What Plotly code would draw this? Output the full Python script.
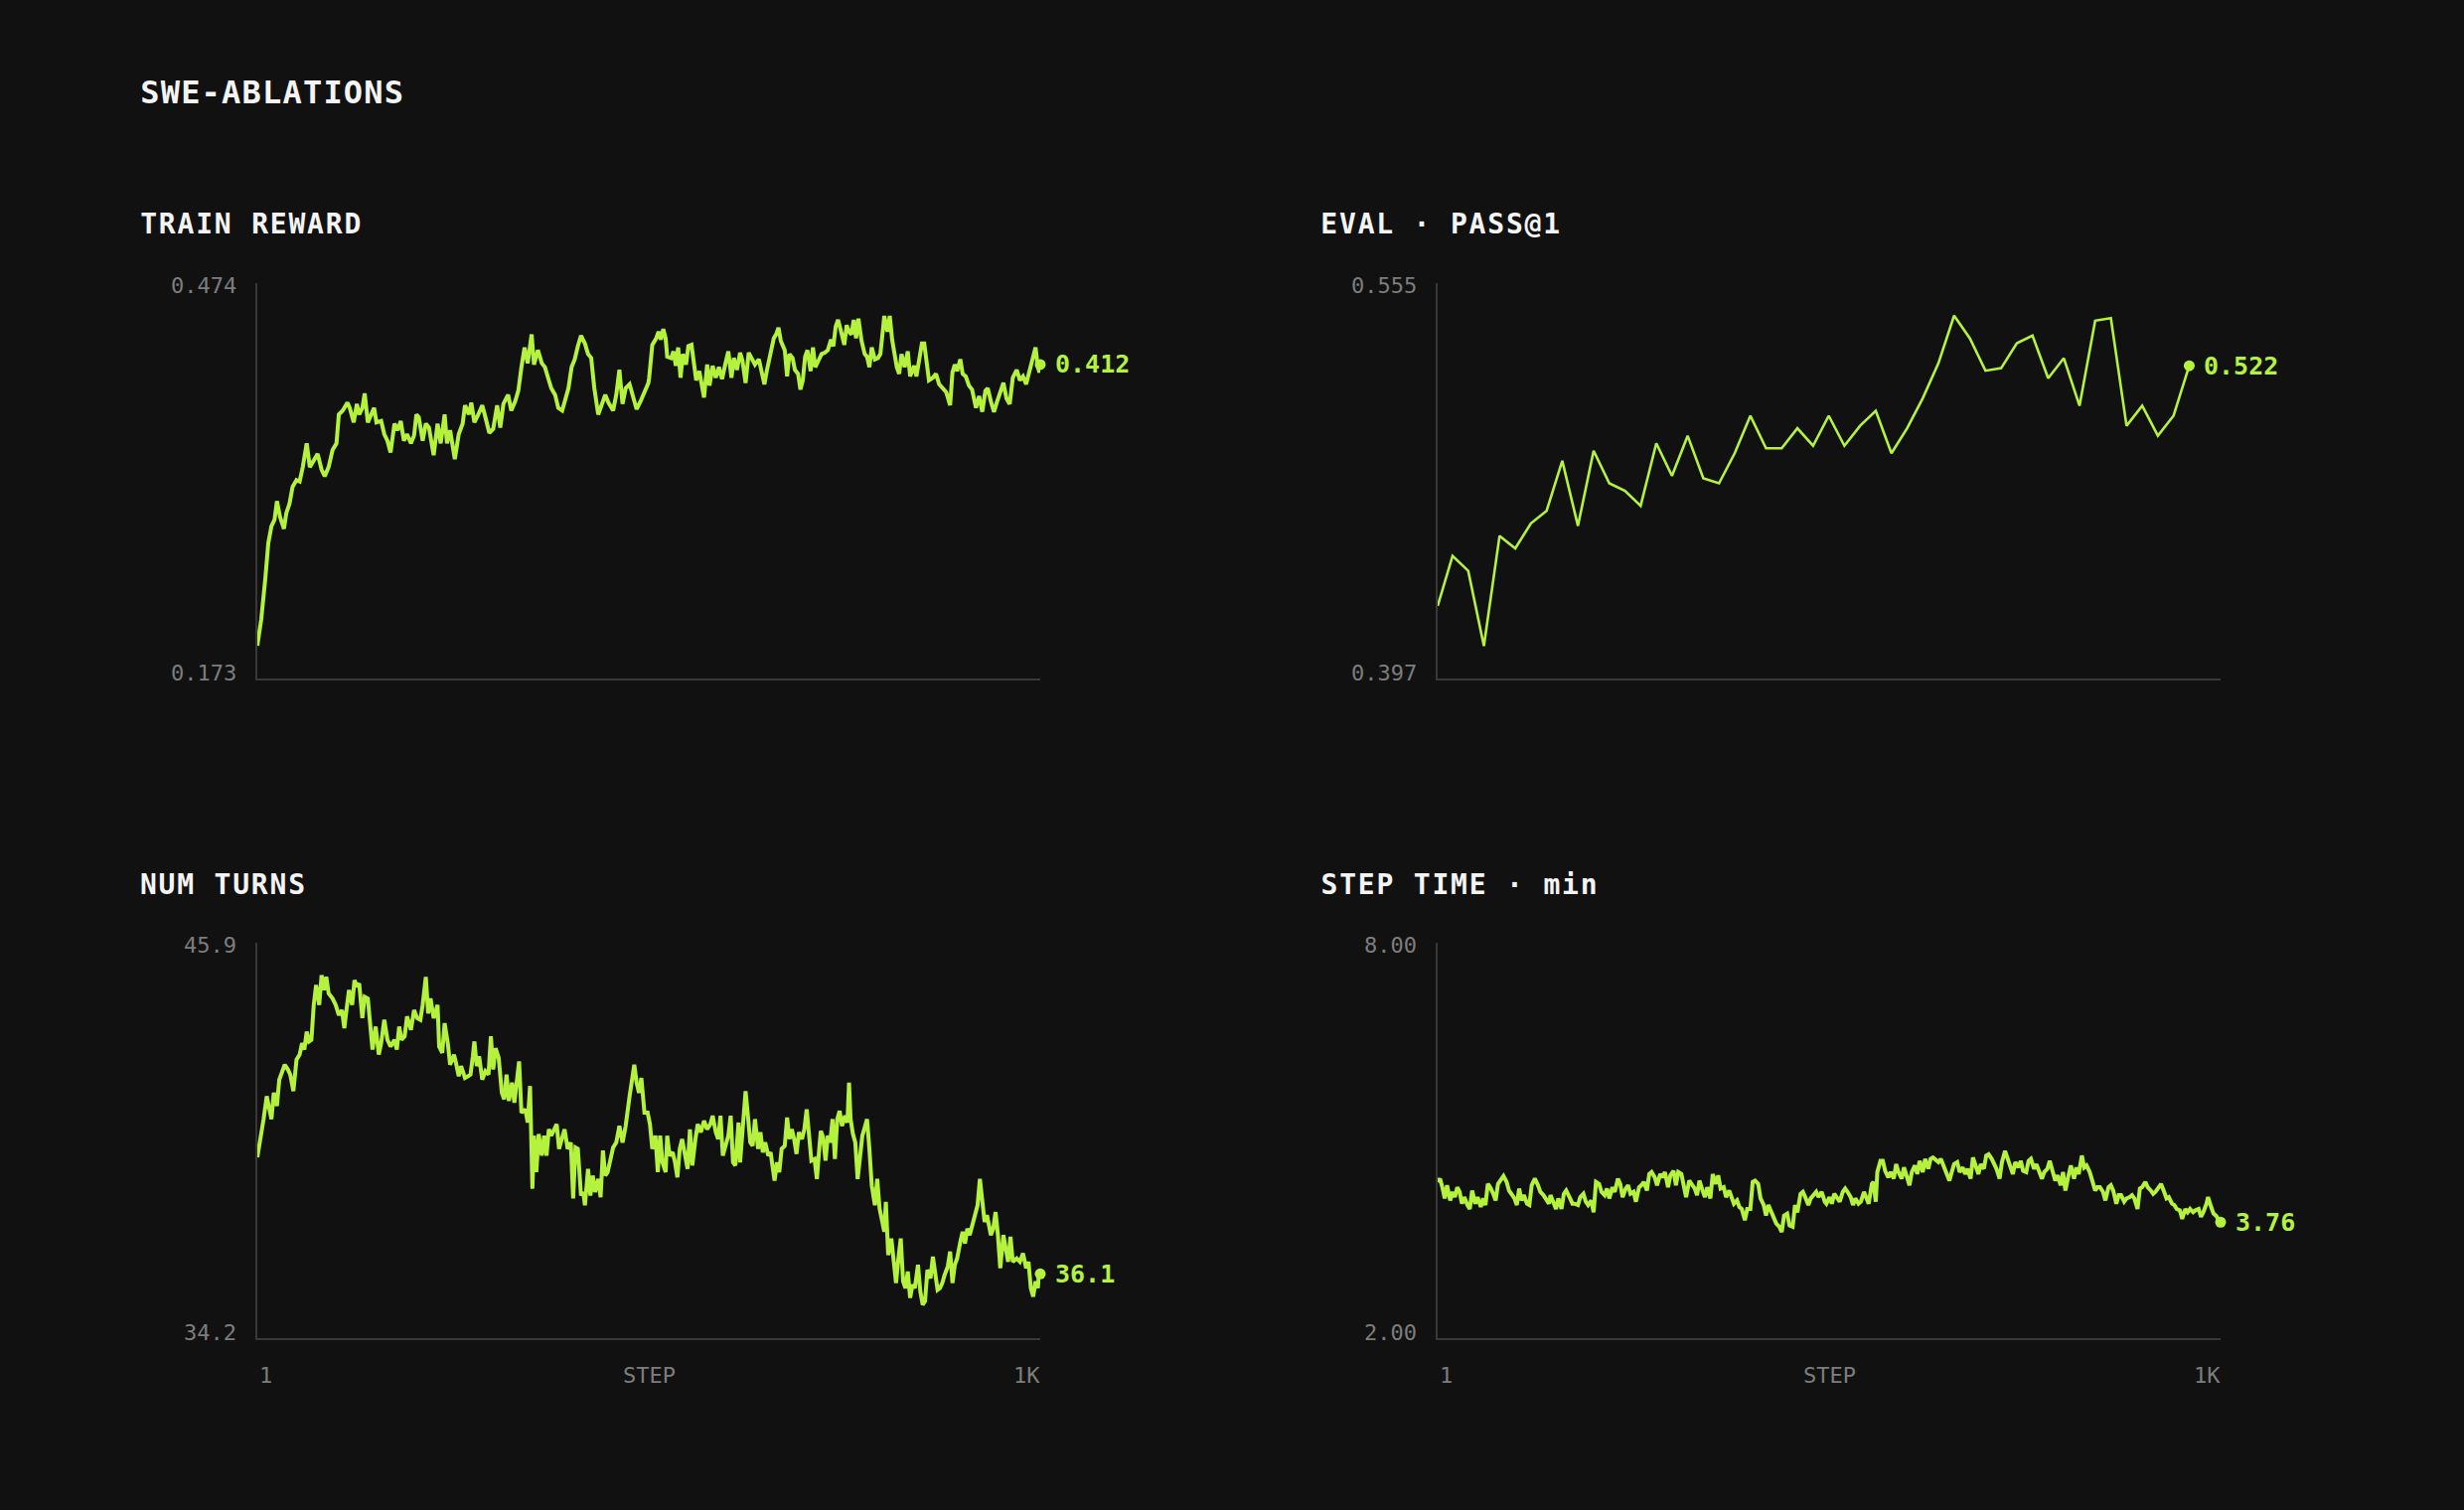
import json
import plotly.graph_objects as go

# ---------------- DATA ----------------
train_steps = [1, 6, 11, 15, 19, 23, 26, 30, 35, 38, 42, 46, 51, 55, 59, 64, 68, 73, 78, 83,
               87, 92, 97, 102, 105, 110, 116, 119, 124, 128, 131, 135, 138, 142, 146, 150, 153, 159, 163, 167,
               171, 176, 180, 184, 188, 192, 197, 201, 204, 207, 212, 216, 220, 226, 231, 235, 240, 243, 247, 253,
               258, 263, 266, 271, 274, 278, 283, 288, 292, 297, 302, 307, 311, 315, 321, 325, 330, 334, 338, 342,
               346, 351, 354, 359, 364, 368, 372, 376, 381, 385, 390, 394, 398, 402, 406, 410, 414, 419, 423, 427,
               431, 436, 441, 445, 449, 455, 459, 463, 467, 471, 476, 480, 485, 490, 495, 500,
               501, 505, 510, 513, 516, 519, 522, 524, 529, 532, 535, 538, 541, 544, 548, 551, 555, 558, 561, 565,
               568, 571, 575, 578, 582, 586, 590, 594, 598, 602, 606, 609, 613, 617, 620, 624, 628, 632, 636, 641,
               645, 648, 651, 656, 660, 663, 666, 669, 674, 677, 680, 684, 687, 691, 694, 697, 700, 703, 707, 710,
               713, 717, 721, 725, 729, 733, 736, 739, 742, 746, 750, 753, 756, 759, 762, 765, 768, 772, 776, 779,
               782, 785, 789, 793, 796, 799, 801, 805, 808, 811, 814, 817, 820, 823, 827, 831, 834, 839, 842, 846,
               849, 852, 855, 858, 863, 867, 871, 875, 880, 885, 888, 891, 894, 898, 901, 905, 909, 913, 918, 922,
               926, 930, 933, 937, 941, 945, 949, 953, 957, 961, 965, 970, 974, 978, 982, 986, 991, 994, 997, 999, 1000]
train_reward = [0.198, 0.218, 0.248, 0.276, 0.289, 0.294, 0.308, 0.296, 0.287, 0.299,
                0.306, 0.319, 0.324, 0.323, 0.334, 0.352, 0.334, 0.339, 0.344, 0.332,
                0.327, 0.334, 0.347, 0.352, 0.374, 0.377, 0.383, 0.379, 0.368, 0.382,
                0.374, 0.379, 0.390, 0.368, 0.373, 0.379, 0.368, 0.369, 0.359, 0.354,
                0.345, 0.367, 0.362, 0.369, 0.354, 0.359, 0.352, 0.358, 0.374, 0.372,
                0.354, 0.367, 0.364, 0.343, 0.367, 0.352, 0.374, 0.352, 0.362, 0.340,
                0.359, 0.367, 0.381, 0.374, 0.383, 0.368, 0.374, 0.381, 0.372, 0.360,
                0.363, 0.381, 0.364, 0.382, 0.389, 0.377, 0.384, 0.392, 0.410, 0.425,
                0.413, 0.435, 0.412, 0.423, 0.413, 0.410, 0.402, 0.394, 0.389, 0.379,
                0.377, 0.387, 0.394, 0.410, 0.416, 0.426, 0.434, 0.428, 0.420, 0.417,
                0.394, 0.374, 0.382, 0.389, 0.383, 0.377, 0.389, 0.408, 0.382, 0.394,
                0.397, 0.389, 0.378, 0.384, 0.392, 0.398,
                0.402, 0.427, 0.432, 0.437, 0.431, 0.439, 0.432, 0.418, 0.417, 0.422,
                0.411, 0.425, 0.402, 0.420, 0.412, 0.426, 0.427, 0.412, 0.400, 0.407,
                0.397, 0.387, 0.412, 0.396, 0.411, 0.402, 0.410, 0.401, 0.412, 0.422,
                0.402, 0.417, 0.408, 0.421, 0.415, 0.398, 0.421, 0.417, 0.412, 0.416,
                0.403, 0.397, 0.407, 0.422, 0.432, 0.435, 0.440, 0.430, 0.423, 0.403,
                0.420, 0.417, 0.408, 0.405, 0.393, 0.400, 0.418, 0.423, 0.407, 0.425,
                0.410, 0.415, 0.420, 0.421, 0.423, 0.431, 0.426, 0.441, 0.446, 0.437,
                0.427, 0.442, 0.437, 0.435, 0.446, 0.432, 0.447, 0.430, 0.420, 0.418,
                0.410, 0.425, 0.416, 0.417, 0.420, 0.437, 0.449, 0.437, 0.449, 0.431,
                0.418, 0.410, 0.405, 0.420, 0.410, 0.422, 0.403, 0.411, 0.403, 0.417,
                0.428, 0.428, 0.416, 0.400, 0.402, 0.405, 0.397, 0.394, 0.391, 0.381,
                0.406, 0.412, 0.407, 0.416, 0.405, 0.403, 0.396, 0.393, 0.379, 0.388,
                0.376, 0.392, 0.394, 0.384, 0.376, 0.384, 0.392, 0.398, 0.386, 0.382,
                0.402, 0.408, 0.400, 0.403, 0.397, 0.406, 0.418, 0.425, 0.410, 0.406, 0.412]

eval_steps = [1] + list(range(20, 961, 20))
eval_pass1 = [0.426, 0.446, 0.440, 0.410, 0.454, 0.449, 0.459, 0.464, 0.484, 0.458,
              0.488, 0.475, 0.472, 0.466, 0.491, 0.478, 0.494, 0.477, 0.475, 0.487,
              0.502, 0.489, 0.489, 0.497, 0.490, 0.502, 0.490, 0.498, 0.504, 0.487,
              0.497, 0.509, 0.523, 0.542, 0.533, 0.520, 0.521, 0.531, 0.534, 0.517,
              0.525, 0.506, 0.540, 0.541, 0.498, 0.506, 0.494, 0.502, 0.522]

turns_steps = [1, 5, 9, 13, 16, 19, 22, 26, 29, 33, 36, 40, 43, 47, 51, 55, 58, 61, 64, 67,
               70, 73, 76, 80, 83, 86, 89, 92, 97, 101, 105, 109, 112, 115, 118, 122, 125, 128, 131, 135,
               138, 142, 145, 148, 152, 156, 159, 163, 167, 171, 176, 179, 182, 185, 189, 192, 197, 201, 205, 209,
               212, 216, 219, 222, 226, 231, 233, 237, 240, 244, 247, 252, 255, 258, 261, 266, 270, 273, 276, 278,
               281, 284, 288, 292, 296, 299, 302, 305, 309, 313, 316, 319, 322, 326, 329, 332, 335, 338, 343, 346,
               349, 352, 354, 357, 360, 364, 367, 370, 373, 376, 380, 383, 386, 389, 393, 397, 401, 404, 407, 410,
               414, 417, 419, 423, 426, 429, 432, 436, 439, 442, 445, 448, 452, 455, 459, 463, 467, 471, 476, 479,
               482, 485, 488, 491, 495,
               499, 502, 505, 509, 512, 515, 518, 522, 524, 527, 531, 534, 537, 540, 543, 547, 550, 553, 556, 560,
               563, 567, 571, 575, 579, 582, 586, 589, 592, 595, 598, 602, 605, 608, 611, 615, 617, 620, 624, 627,
               630, 633, 636, 640, 643, 646, 649, 653, 656, 658, 661, 664, 667, 670, 674, 677, 680, 683, 686, 689,
               692, 696, 699, 702, 705, 708, 712, 715, 718, 720, 723, 726, 729, 732, 735, 738, 741, 744, 747, 751,
               754, 756, 758, 761, 764, 767, 770, 773, 776, 779, 782, 785, 789, 792, 795, 798, 801, 803, 806, 810,
               813, 816, 819, 822, 825, 828, 831, 834, 837, 840, 844, 847, 850, 853, 856, 860, 863, 866, 869, 872,
               875, 878, 882, 885, 888, 891, 894, 898, 901, 904, 907, 910, 913, 916, 920, 923, 926, 929, 932, 937,
               940, 943, 946, 949, 953, 956, 959, 962, 965, 970, 974, 978, 982, 985, 988, 991, 994, 997, 998, 1000]
num_turns = [39.55, 40.09, 40.68, 41.36, 40.97, 40.68, 41.46, 41.07, 41.85, 42.15,
             42.29, 42.15, 42.00, 41.51, 42.44, 42.59, 42.93, 42.74, 43.27, 42.98,
             43.03, 44.06, 44.65, 44.06, 44.94, 44.50, 44.89, 44.40, 44.25, 44.06,
             43.76, 43.91, 43.37, 43.96, 44.50, 44.06, 44.79, 44.60, 44.70, 43.67,
             44.30, 44.25, 43.47, 42.74, 43.42, 42.59, 42.93, 43.62, 43.03, 42.83,
             43.03, 42.74, 43.42, 43.03, 43.13, 43.72, 43.32, 43.91, 43.67, 43.62,
             44.06, 44.89, 43.81, 44.25, 43.67, 44.06, 42.83, 42.64, 43.52, 42.93,
             42.29, 42.59, 42.29, 41.95, 42.25, 41.90, 41.95, 42.00, 42.54, 42.98,
             42.25, 42.54, 41.85, 42.10, 42.00, 43.13, 42.15, 42.78, 42.49, 41.46,
             41.27, 42.00, 41.22, 41.76, 41.17, 41.76, 42.39, 40.87, 40.97, 40.58,
             41.66, 38.62, 40.19, 39.11, 40.24, 39.60, 40.19, 39.60, 40.38, 40.19,
             40.38, 40.53, 39.80, 40.09, 40.38, 39.80, 39.99, 38.33, 39.84, 39.80,
             38.42, 38.52, 38.13, 39.21, 38.42, 39.01, 38.52, 38.91, 38.37, 39.75,
             39.01, 39.11, 39.60, 39.84, 39.99, 40.48, 39.99, 40.48, 41.36, 41.76,
             42.29, 41.76, 41.46, 41.90, 40.87,
             40.87, 40.53, 39.80, 40.19, 39.11, 40.19, 39.40, 39.11, 40.19, 39.60,
             39.70, 39.40, 38.96, 39.80, 40.09, 39.50, 39.21, 40.38, 39.31, 40.09,
             40.53, 40.29, 40.63, 40.38, 40.53, 40.78, 40.29, 40.09, 40.78, 39.60,
             39.89, 40.19, 40.78, 39.40, 39.31, 40.58, 39.40, 40.38, 41.51, 40.78,
             39.99, 39.89, 40.68, 39.80, 40.29, 39.70, 39.99, 39.60, 39.70, 39.35,
             38.86, 39.40, 39.11, 39.80, 39.89, 40.73, 40.09, 40.38, 40.09, 39.65,
             40.29, 40.09, 40.38, 40.97, 40.19, 39.45, 39.50, 38.91, 39.80, 40.33,
             40.14, 39.45, 40.19, 39.99, 40.68, 39.50, 40.68, 40.92, 40.48, 40.78,
             40.58, 41.76, 40.68, 40.24, 39.99, 38.91, 39.55, 40.19, 40.43, 40.68,
             39.80, 38.72, 38.13, 38.91, 38.03, 37.64, 37.35, 38.23, 36.66, 37.15,
             36.46, 35.83, 36.56, 37.15, 35.88, 35.68, 36.17, 35.39, 35.78, 35.68,
             36.37, 35.58, 35.19, 35.29, 36.22, 35.97, 36.61, 36.07, 35.63, 35.68,
             35.83, 36.07, 36.32, 36.76, 35.83, 36.37, 36.56, 37.05, 37.35, 37.00,
             37.44, 37.25, 37.49, 37.74, 38.13, 38.91, 38.23, 37.64, 37.84, 37.25,
             37.44, 37.93, 37.25, 36.27, 37.25, 36.76, 36.46, 37.20, 36.46, 36.56,
             36.46, 36.71, 36.27, 36.46, 35.68, 35.43, 35.88, 35.68, 36.02, 36.10]

time_steps = [1, 4, 7, 10, 13, 17, 20, 23, 26, 29, 32, 35, 39, 42, 45, 49, 52, 56, 59, 62,
              65, 68, 72, 75, 78, 81, 85, 89, 92, 95, 99, 102, 105, 108, 111, 115, 118, 121, 125, 129,
              132, 136, 139, 143, 145, 149, 152, 155, 159, 162, 165, 170, 173, 176, 180, 183, 187, 190, 193, 197,
              200, 203, 207, 210, 214, 217, 220, 224, 227, 231, 234, 237, 241, 244, 247, 251, 254, 258, 261, 264,
              268, 271, 274, 278, 281, 285, 288, 291, 295, 298, 302, 305, 308, 312, 315, 318, 322, 325, 329, 332,
              335, 339, 342, 345, 349, 352, 356, 359, 362, 366, 369, 373, 376, 379, 383, 386, 389, 393, 396, 400,
              403, 406, 410, 413, 417, 420, 423, 427, 430, 433, 437, 440, 443, 447, 450, 454, 457, 460, 464, 467,
              470, 474, 477, 481, 484, 487, 491, 495,
              497, 501, 504, 507, 511, 514, 518, 521, 524, 528, 531, 534, 538, 541, 545, 548, 551, 555, 557, 560,
              562, 566, 569, 572, 576, 579, 583, 586, 589, 593, 596, 600, 603, 606, 610, 613, 616, 620, 623, 627,
              630, 633, 637, 640, 643, 647, 650, 654, 657, 660, 664, 667, 671, 674, 677, 681, 684, 687, 691, 694,
              698, 701, 704, 708, 711, 714, 718, 721, 725, 728, 731, 735, 738, 742, 745, 748, 752, 755, 758, 762,
              765, 769, 772, 775, 779, 782, 786, 789, 792, 796, 799, 802, 806, 809, 813, 816, 819, 823, 826, 829,
              833, 836, 840, 843, 846, 850, 853, 857, 860, 863, 867, 870, 873, 877, 880, 884, 887, 890, 894, 897,
              900, 904, 907, 911, 914, 917, 921, 924, 928, 931, 934, 938, 941, 944, 948, 951, 955, 958, 961, 965,
              968, 972, 975, 978, 982, 984, 988, 991, 994, 998, 1000]
step_time_min = [4.37, 4.42, 4.29, 4.12, 4.32, 4.09, 4.22, 4.14, 4.29, 4.22,
                 4.04, 4.14, 4.02, 3.96, 4.24, 4.04, 4.14, 3.99, 4.12, 4.02,
                 4.34, 4.29, 4.19, 4.09, 4.34, 4.39, 4.46, 4.37, 4.24, 4.19,
                 4.12, 4.02, 4.27, 4.09, 4.17, 4.04, 4.02, 4.32, 4.42, 4.32,
                 4.22, 4.17, 4.12, 4.04, 4.17, 4.04, 3.96, 4.12, 3.96, 4.19,
                 4.24, 4.12, 4.04, 4.04, 4.02, 4.14, 4.19, 4.07, 4.02, 4.09,
                 3.91, 4.37, 4.34, 4.22, 4.17, 4.27, 4.12, 4.29, 4.22, 4.42,
                 4.34, 4.14, 4.27, 4.32, 4.19, 4.22, 4.07, 4.29, 4.32, 4.37,
                 4.24, 4.49, 4.52, 4.44, 4.32, 4.49, 4.44, 4.52, 4.29, 4.47,
                 4.54, 4.32, 4.52, 4.49, 4.34, 4.14, 4.39, 4.34, 4.27, 4.17,
                 4.39, 4.24, 4.14, 4.29, 4.12, 4.49, 4.34, 4.47, 4.27, 4.29,
                 4.14, 4.24, 4.12, 4.04, 4.09, 3.99, 3.96, 3.79, 3.96, 3.96,
                 4.37, 4.39, 4.34, 4.12, 4.02, 3.86, 4.02, 3.91, 3.81, 3.74,
                 3.69, 3.61, 3.86, 3.89, 3.71, 3.69, 4.02, 3.91, 4.19, 4.22,
                 4.14, 4.02, 4.12, 4.17, 4.22, 4.14, 4.22, 4.07,
                 4.04, 4.14, 4.04, 4.19, 4.12, 4.07, 4.22, 4.27, 4.22, 4.14,
                 4.02, 4.12, 4.04, 4.07, 4.22, 4.12, 4.04, 4.34, 4.37, 4.07,
                 4.52, 4.69, 4.69, 4.54, 4.44, 4.52, 4.42, 4.64, 4.52, 4.42,
                 4.59, 4.44, 4.32, 4.52, 4.62, 4.49, 4.69, 4.52, 4.72, 4.57,
                 4.72, 4.74, 4.69, 4.67, 4.72, 4.59, 4.49, 4.39, 4.52, 4.64,
                 4.67, 4.52, 4.59, 4.49, 4.57, 4.42, 4.74, 4.62, 4.49, 4.64,
                 4.57, 4.77, 4.79, 4.72, 4.64, 4.57, 4.42, 4.67, 4.84, 4.74,
                 4.62, 4.49, 4.67, 4.59, 4.69, 4.54, 4.52, 4.69, 4.72, 4.57,
                 4.64, 4.52, 4.42, 4.52, 4.57, 4.69, 4.52, 4.39, 4.47, 4.32,
                 4.52, 4.24, 4.47, 4.62, 4.42, 4.59, 4.49, 4.77, 4.59, 4.62,
                 4.52, 4.39, 4.24, 4.29, 4.29, 4.22, 4.09, 4.29, 4.32, 4.24,
                 4.04, 4.17, 4.17, 4.07, 4.12, 4.14, 4.17, 4.12, 3.96, 4.27,
                 4.29, 4.37, 4.29, 4.24, 4.19, 4.22, 4.29, 4.34, 4.22, 4.12,
                 4.14, 4.04, 4.02, 3.96, 3.94, 3.81, 3.96, 3.91, 3.96, 3.91,
                 3.94, 3.96, 3.84, 3.91, 4.04, 4.14, 3.99, 3.89, 3.86, 3.79, 3.76]

chart_title = "SWE-ABLATIONS"
panel_titles = ["TRAIN REWARD", "EVAL · PASS@1", "NUM TURNS", "STEP TIME · min"]
panel_ranges = [(0.173, 0.474), (0.397, 0.555), (34.2, 45.9), (2.00, 8.00)]
panel_formats = [".3f", ".3f", ".1f", ".2f"]
x_tick_labels = ["1", "STEP", "1K"]
step_range = (1, 1000)

# ---------------- STYLE ----------------
W, H = 2480, 1520
BG = "#111111"
LIME = "#b5f23d"
AXIS = "#383838"
TICK = "#7d7d7d"
WHITE = "#f4f4f4"
MONO = "DejaVu Sans Mono"
SUB_SPACING = 1.8
TITLE_SPACING = 1.2

def px_x(p):
    return p / W

def px_y(p):
    return 1 - p / H

col_x = [(259, 1047), (1447, 2235)]
row_y = [(285, 683), (949, 1347)]
title_x = [139, 1327]
title_y = [226, 890]

series = [
    (train_steps, train_reward, 4.0),
    (eval_steps, eval_pass1, 2.6),
    (turns_steps, num_turns, 4.0),
    (time_steps, step_time_min, 4.0),
]

fig = go.Figure()
annotations = []
layout_axes = {}
letter_spacing = {}

for i, (xs, ys, lw) in enumerate(series):
    r, c = divmod(i, 2)
    n = i + 1
    xa = "x" if n == 1 else f"x{n}"
    ya = "y" if n == 1 else f"y{n}"
    fig.add_trace(go.Scatter(x=xs, y=ys, mode="lines", xaxis=xa, yaxis=ya,
                             line=dict(color=LIME, width=lw), hoverinfo="skip",
                             showlegend=False))
    fig.add_trace(go.Scatter(x=[xs[-1]], y=[ys[-1]], mode="markers", xaxis=xa, yaxis=ya,
                             marker=dict(color=LIME, size=11), hoverinfo="skip",
                             showlegend=False, cliponaxis=False))
    x0, x1 = col_x[c]
    y0, y1 = row_y[r]
    lo, hi = panel_ranges[i]
    layout_axes["xaxis" if n == 1 else f"xaxis{n}"] = dict(
        domain=[px_x(x0), px_x(x1)], range=list(step_range), anchor=ya,
        showline=True, linecolor=AXIS, linewidth=2, showgrid=False, zeroline=False,
        showticklabels=False, ticks="", fixedrange=True)
    layout_axes["yaxis" if n == 1 else f"yaxis{n}"] = dict(
        domain=[px_y(y1), px_y(y0)], range=[lo, hi], anchor=xa,
        showline=True, linecolor=AXIS, linewidth=2, showgrid=False, zeroline=False,
        showticklabels=False, ticks="", fixedrange=True)

    fmt = panel_formats[i]
    # panel title (letter-spaced text grows symmetrically, so shift by half the growth)
    letter_spacing[str(len(annotations))] = SUB_SPACING
    annotations.append(dict(text=panel_titles[i], xref="paper", yref="paper",
                            x=px_x(title_x[c]), y=px_y(title_y[r]), xanchor="left", yanchor="middle",
                            xshift=SUB_SPACING * len(panel_titles[i]) / 2,
                            showarrow=False, font=dict(family=MONO, size=28, color=WHITE, weight="bold")))
    # y tick labels (range ends)
    annotations.append(dict(text=format(hi, fmt), xref="paper", yref=ya, x=px_x(x0 - 19), y=hi,
                            xanchor="right", yanchor="middle", yshift=-2, showarrow=False,
                            font=dict(family=MONO, size=22, color=TICK)))
    annotations.append(dict(text=format(lo, fmt), xref="paper", yref=ya, x=px_x(x0 - 19), y=lo,
                            xanchor="right", yanchor="middle", yshift=6, showarrow=False,
                            font=dict(family=MONO, size=22, color=TICK)))
    # end value label
    annotations.append(dict(text=format(ys[-1], fmt), xref=xa, yref=ya, x=xs[-1], y=ys[-1],
                            xanchor="left", yanchor="middle", xshift=13, showarrow=False,
                            font=dict(family=MONO, size=25, color=LIME, weight="bold")))
    # x labels for bottom row
    if r == 1:
        ylab = px_y(1384)
        annotations.append(dict(text=x_tick_labels[0], xref="paper", yref="paper", x=px_x(x0),
                                y=ylab, xanchor="left", yanchor="middle", showarrow=False,
                                font=dict(family=MONO, size=22, color=TICK)))
        annotations.append(dict(text=x_tick_labels[1], xref="paper", yref="paper", x=px_x((x0 + x1) / 2),
                                y=ylab, xanchor="center", yanchor="middle", showarrow=False,
                                font=dict(family=MONO, size=22, color=TICK)))
        annotations.append(dict(text=x_tick_labels[2], xref="paper", yref="paper", x=px_x(x1 + 2),
                                y=ylab, xanchor="right", yanchor="middle", showarrow=False,
                                font=dict(family=MONO, size=22, color=TICK)))

letter_spacing[str(len(annotations))] = TITLE_SPACING
annotations.append(dict(text=chart_title, xref="paper", yref="paper", x=px_x(139), y=px_y(93),
                        xanchor="left", yanchor="middle", xshift=TITLE_SPACING * len(chart_title) / 2,
                        showarrow=False,
                        font=dict(family=MONO, size=32, color=WHITE, weight="bold")))

fig.update_layout(width=W, height=H, autosize=False,
                  margin=dict(l=0, r=0, t=0, b=0, pad=0),
                  paper_bgcolor=BG, plot_bgcolor=BG,
                  annotations=annotations, hovermode=False, showlegend=False,
                  **layout_axes)

# widen tracking of the title texts (monospace caps in the original are spaced out)
post_js = """
(function(){
  var sp = %s;
  document.querySelectorAll('g.annotation').forEach(function(g){
    var k = g.getAttribute('data-index');
    if (sp.hasOwnProperty(k)) {
      var t = g.querySelector('text.annotation-text');
      if (t) { t.style.letterSpacing = sp[k] + 'px'; }
    }
  });
})();
""" % json.dumps(letter_spacing)

fig.write_html("out.html", config={"displayModeBar": False}, post_script=post_js)
